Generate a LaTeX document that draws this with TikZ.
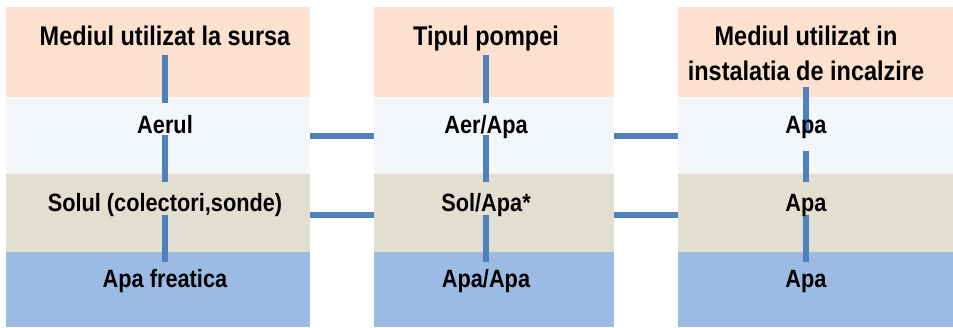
\documentclass[tikz,border=0pt]{standalone}
\usepackage{fontspec}
\setmainfont{Liberation Sans}[FakeStretch=0.87]
\definecolor{hdr}{HTML}{FCE1CE}
\definecolor{rowa}{HTML}{F3F6FB}
\definecolor{rowb}{HTML}{E2DFD0}
\definecolor{rowc}{HTML}{9BBBE4}
\definecolor{conn}{HTML}{4F81BD}
\tikzset{
  band/.style={anchor=north west, inner sep=0pt, outer sep=0pt, draw=none},
  link/.style={draw=conn, line width=6pt},
  hdrtxt/.style={anchor=base, inner sep=0pt, font=\fontsize{27}{35}\selectfont\bfseries, align=center},
  celltxt/.style={anchor=base, inner sep=0pt, font=\fontsize{25}{28}\selectfont\bfseries},
}
\begin{document}
\begin{tikzpicture}[x=1pt,y=-1pt]
\useasboundingbox (0,0) rectangle (953,327);
% column 1
\node[band, fill=hdr,  minimum width=304pt, minimum height=90pt] (h1) at (6,7) {};
\node[band, fill=rowa, minimum width=304pt, minimum height=77pt] (a1) at (6,97) {};
\node[band, fill=rowb, minimum width=304pt, minimum height=78pt] (b1) at (6,174) {};
\node[band, fill=rowc, minimum width=304pt, minimum height=75pt] (c1) at (6,252) {};
% column 2
\node[band, fill=hdr,  minimum width=240pt, minimum height=90pt] (h2) at (374,7) {};
\node[band, fill=rowa, minimum width=240pt, minimum height=77pt] (a2) at (374,97) {};
\node[band, fill=rowb, minimum width=240pt, minimum height=78pt] (b2) at (374,174) {};
\node[band, fill=rowc, minimum width=240pt, minimum height=75pt] (c2) at (374,252) {};
% column 3
\node[band, fill=hdr,  minimum width=275pt, minimum height=90pt] (h3) at (678,7) {};
\node[band, fill=rowa, minimum width=275pt, minimum height=77pt] (a3) at (678,97) {};
\node[band, fill=rowb, minimum width=275pt, minimum height=78pt] (b3) at (678,174) {};
\node[band, fill=rowc, minimum width=275pt, minimum height=75pt] (c3) at (678,252) {};
% connector end points
\coordinate (p1a) at (165,55);  \coordinate (p1b) at (165,103);
\coordinate (p1c) at (165,135); \coordinate (p1d) at (165,182);
\coordinate (p1e) at (165,215); \coordinate (p1f) at (165,262);
\coordinate (p2a) at (486,55);  \coordinate (p2b) at (486,103);
\coordinate (p2c) at (486,135); \coordinate (p2d) at (486,182);
\coordinate (p2e) at (486,215); \coordinate (p2f) at (486,262);
\coordinate (p3a) at (806,87);  \coordinate (p3b) at (806,133);
\coordinate (p3c) at (806,151); \coordinate (p3d) at (806,182);
\coordinate (p3e) at (806,215); \coordinate (p3f) at (806,262);
% vertical connectors
\draw[link] (p1a) -- (p1b); \draw[link] (p1c) -- (p1d); \draw[link] (p1e) -- (p1f);
\draw[link] (p2a) -- (p2b); \draw[link] (p2c) -- (p2d); \draw[link] (p2e) -- (p2f);
\draw[link] (p3a) -- (p3b); \draw[link] (p3c) -- (p3d); \draw[link] (p3e) -- (p3f);
% horizontal connectors
\draw[link] ([yshift=-0.5pt]a1.east) -- ([yshift=-0.5pt]a2.west);
\draw[link] ([yshift=-0.5pt]a2.east) -- ([yshift=-0.5pt]a3.west);
\draw[link] ([yshift=-2pt]b1.east) -- ([yshift=-2pt]b2.west);
\draw[link] ([yshift=-2pt]b2.east) -- ([yshift=-2pt]b3.west);
% texts
\node[hdrtxt] (t1) at (165,45.5) {Mediul utilizat la sursa};
\node[hdrtxt] (t2) at (486,45.5) {Tipul pompei};
\node[hdrtxt] (t3) at (806,45) {Mediul utilizat in};
\node[hdrtxt] (t3b) at (806,80) {instalatia de incalzire};
\node[celltxt] (x1a) at (165,133) {Aerul};
\node[celltxt] (x1b) at (165,211) {Solul (colectori,sonde)};
\node[celltxt] (x1c) at (165,287) {Apa freatica};
\node[celltxt] (x2a) at (486,133) {Aer/Apa};
\node[celltxt] (x2b) at (486,211) {Sol/Apa*};
\node[celltxt] (x2c) at (486,287) {Apa/Apa};
\node[celltxt] (x3a) at (806,133) {Apa};
\node[celltxt] (x3b) at (806,211) {Apa};
\node[celltxt] (x3c) at (806,287) {Apa};
\end{tikzpicture}
\end{document}
